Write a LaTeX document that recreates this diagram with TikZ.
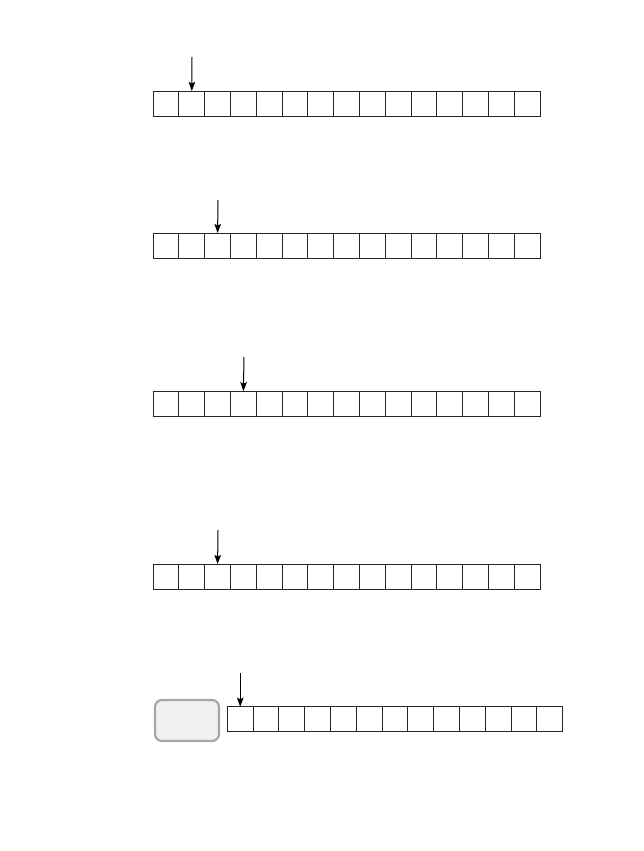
\documentclass[tikz,border=0pt]{standalone}
\usetikzlibrary{shapes, arrows, arrows.meta, positioning}
\tikzstyle{arrow} = [-{Stealth[length=9pt, width=6.5pt, inset=1.5pt]}, line width=1pt]
\tikzstyle{cell} = [rectangle, draw=black!85, line width=1pt, minimum width=25.8pt, minimum height=25pt, inner sep=0pt, outer sep=0pt]
\tikzstyle{holder} = [rectangle, rounded corners=7pt, draw=gray!70, line width=2.2pt, fill=gray!12, minimum width=64pt, minimum height=41pt]

\begin{document}
\begin{tikzpicture}[x=1pt, y=-1pt]
        \useasboundingbox (0,0) rectangle (644,851);

        % row 1
        \node (a1) [cell] at (166,103.5) {};
        \foreach \i [count=\j from 2] in {1,...,14}
            \node (a\j) [cell, right=0pt of a\i] {};
        \coordinate (pa) at (192,57);
        \draw [arrow] (pa) -- (a2.north);

        % row 2
        \node (b1) [cell] at (166,245.5) {};
        \foreach \i [count=\j from 2] in {1,...,14}
            \node (b\j) [cell, right=0pt of b\i] {};
        \coordinate (pb) at (218,200);
        \draw [arrow] (pb) -- (b3.north);

        % row 3
        \node (c1) [cell] at (166,403.7) {};
        \foreach \i [count=\j from 2] in {1,...,14}
            \node (c\j) [cell, right=0pt of c\i] {};
        \coordinate (pc) at (244,357);
        \draw [arrow] (pc) -- (c4.north);

        % row 4
        \node (d1) [cell] at (166,576.5) {};
        \foreach \i [count=\j from 2] in {1,...,14}
            \node (d\j) [cell, right=0pt of d\i] {};
        \coordinate (pd) at (218,530);
        \draw [arrow] (pd) -- (d3.north);

        % row 5
        \node (box) [holder] at (187,720.5) {};
        \node (e1) [cell] at (240.2,719.2) {};
        \foreach \i [count=\j from 2] in {1,...,12}
            \node (e\j) [cell, right=0pt of e\i] {};
        \coordinate (pe) at (240.2,673);
        \draw [arrow] (pe) -- (e1.north);
    \end{tikzpicture}
\end{document}
